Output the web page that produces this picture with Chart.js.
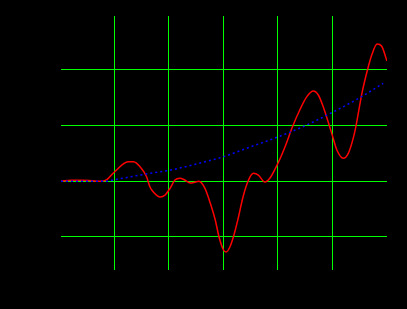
<!DOCTYPE html>
<html>
<head>
<meta charset="utf-8">
<script src="https://cdn.jsdelivr.net/npm/chart.js@4.4.1/dist/chart.umd.min.js"></script>
<style>
  html, body { margin: 0; padding: 0; background: #000; }
  #wrap { width: 407px; height: 309px; }
</style>
</head>
<body>
<div id="wrap"><canvas id="myChart"></canvas></div>
<script>
// red curve
const redX = [0.02, 0.20, 0.40, 0.59, 0.74, 0.86, 1.00, 1.25, 1.35, 1.47, 1.59, 1.65, 1.71, 1.84, 1.93,
  2.02, 2.11, 2.20, 2.29, 2.39, 2.48, 2.55, 2.66, 2.75, 2.85, 2.92, 3.00, 3.05, 3.12, 3.18,
  3.27, 3.36, 3.46, 3.55, 3.64, 3.76, 3.85, 4.01, 4.13, 4.27, 4.40, 4.53, 4.65, 4.74, 4.83,
  4.92, 5.00, 5.08, 5.20, 5.29, 5.38, 5.43, 5.54, 5.64, 5.72, 5.82, 5.90, 6.00];
const redY = [0, 0.02, 0.02, 0.01, 0, 0.03, 0.167, 0.352, 0.35, 0.262, 0.083, -0.097, -0.187, -0.282, -0.246,
  -0.126, 0.023, 0.054, 0.023, -0.03, -0.015, 0, -0.126, -0.366, -0.695, -1.006, -1.234, -1.27, -1.175, -1.006,
  -0.665, -0.277, 0.023, 0.144, 0.113, -0.013, 0.054, 0.347, 0.622, 0.988, 1.281, 1.52, 1.622, 1.55, 1.34,
  1.071, 0.814, 0.562, 0.413, 0.503, 0.772, 0.988, 1.58, 1.994, 2.269, 2.466, 2.43, 2.16];

// blue dotted curve
const blueX = [0.02, 0.83, 1.00, 1.58, 2.01, 2.55, 3.00, 3.49, 4.01, 4.50, 5.00, 5.50, 5.93];
const blueY = [0, 0, 0.029, 0.131, 0.198, 0.323, 0.442, 0.616, 0.801, 0.999, 1.239, 1.502, 1.76];

// grid positions
const xTicks = [1, 2, 3, 4, 5];
const yTicks = [-1, 0, 1, 2];

const toPts = (xs, ys) => xs.map((v, i) => ({ x: v, y: ys[i] }));

const config = {
  type: 'line',
  data: {
    datasets: [
      {
        data: toPts(blueX, blueY),
        borderColor: '#0000ff',
        borderWidth: 1.5,
        borderDash: [2, 3],
        pointRadius: 0,
        cubicInterpolationMode: 'monotone'
      },
      {
        data: toPts(redX, redY),
        borderColor: '#ff0000',
        borderWidth: 1.5,
        pointRadius: 0,
        cubicInterpolationMode: 'monotone'
      }
    ]
  },
  options: {
    responsive: true,
    maintainAspectRatio: false,
    animation: false,
    layout: { padding: { left: 61, right: 20, top: 16, bottom: 39 } },
    plugins: { legend: { display: false }, tooltip: { enabled: false } },
    scales: {
      x: {
        type: 'linear',
        min: 0.02,
        max: 6.0,
        afterBuildTicks: (s) => { s.ticks = xTicks.map(v => ({ value: v })); },
        ticks: { display: false },
        border: { display: false },
        grid: { color: '#00ff00', lineWidth: 1, drawTicks: false }
      },
      y: {
        type: 'linear',
        min: -1.593,
        max: 2.969,
        afterBuildTicks: (s) => { s.ticks = yTicks.map(v => ({ value: v })); },
        ticks: { display: false },
        border: { display: false },
        grid: { color: '#00ff00', lineWidth: 1, drawTicks: false }
      }
    }
  }
};

const myChart = new Chart(document.getElementById('myChart'), config);
</script>
</body>
</html>
